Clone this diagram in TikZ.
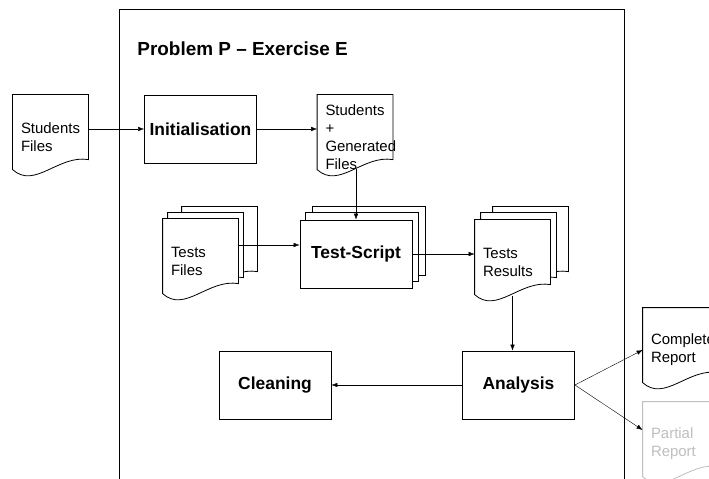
\documentclass[tikz,border=0pt]{standalone}
\usepackage{fontspec}
\setmainfont{Liberation Sans}
\usetikzlibrary{arrows.meta,backgrounds,calc}
\definecolor{faded}{gray}{0.75}
\tikzset{
  box/.style={draw,fill=white,minimum width=112bp,minimum height=68bp,
    font=\fontsize{17.5}{20}\selectfont\bfseries},
  doc/.style={inner xsep=8bp,inner ysep=0pt,text width=59bp,
    minimum height=84bp,align=left,font=\fontsize{15}{18}\selectfont},
  sheet/.style={draw,fill=white,line width=0.8bp},
  flow/.style={-{Latex[length=6bp,width=4.5bp]}},
}
\newcommand\docline[4][]{%
  \draw[sheet,#1] ([shift={(#3,#4)}]#2.north west)
    -- ([shift={(#3,#4)}]#2.north east)
    -- ([shift={(#3,#4+65)}]#2.north east)
    .. controls ([shift={(#3-30,#4+60)}]#2.north east)
    and ([shift={(#3+22,#4+95)}]#2.north west)
    .. ([shift={(#3,#4+75)}]#2.north west) -- cycle;}
\begin{document}
\begin{tikzpicture}[x=1bp,y=-1bp,line width=0.8bp]
  \useasboundingbox (0,0) rectangle (709,479);
  \draw (119,490) -- (119,9) -- (624,9) -- (624,490);
  \draw
    (137,49) node[anchor=west,inner sep=0pt,font=\fontsize{19}{22}\selectfont\bfseries] (title) {Problem P – Exercise E}
    (50.5,137) node[doc] (sfiles) {Students\\Files}
    (200.5,129) node[box] (init) {Initialisation}
    (355,137) node[doc] (sgfiles) {Students\\+\\Generated\\Files}
    (200.5,261) node[doc] (tfiles) {Tests\\Files}
    (356,254) node[box] (tscript) {Test-Script}
    (512.5,262) node[doc] (tresults) {Tests\\Results}
    (275,385) node[box] (clean) {Cleaning}
    (518.5,385) node[box] (analysis) {Analysis}
    (680.5,350) node[doc] (complete) {Complete\\Report}
    (680.5,444) node[doc,text=faded] (partial) {Partial\\Report};
  \begin{pgfonlayer}{background}
    \docline{sfiles}{0}{0}
    \docline{sgfiles}{0}{0}
    \docline{tfiles}{19}{-12}
    \docline{tfiles}{5}{-6}
    \docline{tfiles}{0}{0}
    \draw[sheet] ([shift={(13,-13)}]tscript.south west) rectangle ([shift={(13,-13)}]tscript.north east);
    \draw[sheet] ([shift={(6,-7)}]tscript.south west) rectangle ([shift={(6,-7)}]tscript.north east);
    \docline{tresults}{18}{-13}
    \docline{tresults}{6}{-7}
    \docline{tresults}{0}{0}
    \docline{complete}{0}{0}
    \docline[draw=faded]{partial}{0}{0}
  \end{pgfonlayer}
  \begin{scope}[flow]
    \draw (init.west -| sfiles.east) -- (init.west);
    \draw (init.east) -- (init.east -| sgfiles.west);
    \draw ($(sgfiles.south -| tscript.north)+(0,-10)$) -- (tscript.north);
    \draw ($(tscript.west -| tfiles.east)+(0,-9)$) -- ($(tscript.west)+(0,-9)$);
    \draw (tscript.east) -- (tscript.east -| tresults.west);
    \draw ($(tresults.south)+(0,-8)$) -- (tresults.south |- analysis.north);
    \draw (analysis.west) -- (clean.east);
    \draw (analysis.east) -- (complete.west);
    \draw (analysis.east) -- ($(partial.west)+(0,-14)$);
  \end{scope}
\end{tikzpicture}
\end{document}
